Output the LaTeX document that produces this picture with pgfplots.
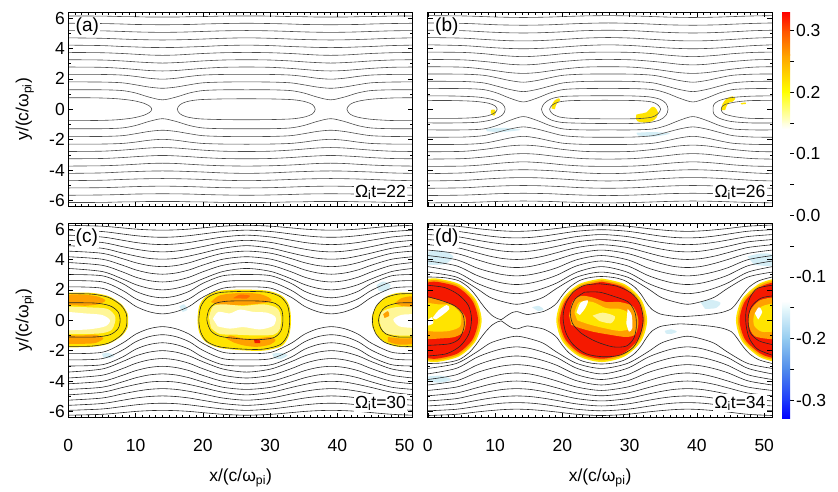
\documentclass[border=0pt]{standalone}
\usepackage{fontspec}
\setmainfont{Liberation Sans}
\usepackage{pgfplots}
\usepackage{pgfplotstable}
\pgfplotsset{compat=1.18}

\definecolor{cy}{RGB}{255,228,0}
\definecolor{cly}{RGB}{255,246,150}
\definecolor{co}{RGB}{255,160,0}
\definecolor{cdo}{RGB}{255,110,0}
\definecolor{cr}{RGB}{245,25,0}
\definecolor{ccy}{RGB}{212,238,246}
\definecolor{cb0}{RGB}{0,0,255}
\definecolor{cb1}{RGB}{30,60,250}
\definecolor{cb2}{RGB}{80,140,235}
\definecolor{cb3}{RGB}{150,205,240}
\definecolor{cb4}{RGB}{235,250,252}
\definecolor{cb5}{RGB}{255,255,215}
\definecolor{cb6}{RGB}{255,255,0}
\definecolor{cb7}{RGB}{255,160,0}
\definecolor{cb8}{RGB}{255,80,0}
\definecolor{cb9}{RGB}{255,0,0}

\newcommand{\tfont}{\fontsize{17.5}{20}\selectfont}

% upper-half field lines (lower half is the mirror image)
\pgfplotstableread{
x L1 L2 L3 L4 L5 L6 L7 L8 L9 L10 L11
0    6.14 5.66 5.18 4.70 4.22 3.74 3.26 2.78 2.30 1.80 1.28
5    6.13 5.64 5.16 4.67 4.19 3.72 3.24 2.76 2.29 1.79 1.28
8    6.10 5.61 5.12 4.62 4.13 3.67 3.18 2.69 2.25 1.74 1.23
10   6.09 5.58 5.09 4.59 4.10 3.62 3.12 2.62 2.16 1.61 1.07
12   6.07 5.57 5.07 4.57 4.07 3.57 3.07 2.55 2.04 1.46 0.80
14   6.07 5.56 5.06 4.56 4.06 3.55 3.04 2.52 1.98 1.38 0.62
16   6.07 5.57 5.07 4.57 4.07 3.57 3.07 2.55 2.04 1.46 0.80
18   6.09 5.58 5.09 4.59 4.10 3.62 3.12 2.62 2.16 1.61 1.07
20   6.10 5.61 5.12 4.62 4.13 3.67 3.18 2.69 2.25 1.74 1.23
23   6.13 5.64 5.16 4.67 4.19 3.72 3.24 2.76 2.29 1.79 1.28
26.5 6.14 5.66 5.18 4.70 4.22 3.74 3.26 2.78 2.30 1.80 1.28
30   6.13 5.64 5.16 4.67 4.19 3.72 3.24 2.76 2.29 1.79 1.28
33   6.10 5.61 5.12 4.62 4.13 3.67 3.18 2.69 2.25 1.74 1.23
35   6.09 5.58 5.09 4.59 4.10 3.62 3.12 2.62 2.16 1.61 1.07
37   6.07 5.57 5.07 4.57 4.07 3.57 3.07 2.55 2.04 1.46 0.80
39   6.07 5.56 5.06 4.56 4.06 3.55 3.04 2.52 1.98 1.38 0.62
41   6.07 5.57 5.07 4.57 4.07 3.57 3.07 2.55 2.04 1.46 0.80
43   6.09 5.58 5.09 4.59 4.10 3.62 3.12 2.62 2.16 1.61 1.07
45   6.10 5.61 5.12 4.62 4.13 3.67 3.18 2.69 2.25 1.74 1.23
48   6.13 5.64 5.16 4.67 4.19 3.72 3.24 2.76 2.29 1.79 1.28
51.2 6.14 5.66 5.18 4.70 4.22 3.74 3.26 2.78 2.30 1.80 1.28
}\tabA

\pgfplotstableread{
x L1 L2 L3 L4 L5 L6 L7 L8 L9 L10 L11
0    6.16 5.68 5.20 4.72 4.24 3.76 3.28 2.80 2.32 1.84 1.36
5.2  6.14 5.65 5.17 4.68 4.19 3.74 3.25 2.77 2.31 1.83 1.36
8.2  6.10 5.60 5.10 4.60 4.10 3.66 3.15 2.65 2.24 1.74 1.30
10.2 6.07 5.56 5.06 4.55 4.04 3.57 3.06 2.53 2.08 1.53 1.08
12.2 6.05 5.54 5.03 4.51 4.00 3.50 2.96 2.41 1.89 1.30 0.73
14.2 6.04 5.53 5.02 4.50 3.98 3.46 2.92 2.36 1.78 1.16 0.48
16.2 6.05 5.54 5.03 4.51 4.00 3.50 2.96 2.41 1.89 1.30 0.73
18.2 6.07 5.56 5.06 4.55 4.04 3.57 3.06 2.53 2.08 1.53 1.08
20.2 6.10 5.60 5.10 4.60 4.10 3.66 3.15 2.65 2.24 1.74 1.30
23.2 6.14 5.65 5.17 4.68 4.19 3.74 3.25 2.77 2.31 1.83 1.36
26.8 6.16 5.68 5.20 4.72 4.24 3.76 3.28 2.80 2.32 1.84 1.36
30.4 6.14 5.65 5.17 4.68 4.19 3.74 3.25 2.77 2.31 1.83 1.36
33.4 6.10 5.60 5.10 4.60 4.10 3.66 3.15 2.65 2.24 1.74 1.30
35.4 6.07 5.56 5.06 4.55 4.04 3.57 3.06 2.53 2.08 1.53 1.08
37.4 6.05 5.54 5.03 4.51 4.00 3.50 2.96 2.41 1.89 1.30 0.73
39.4 6.04 5.53 5.02 4.50 3.98 3.46 2.92 2.36 1.78 1.16 0.48
41.4 6.05 5.54 5.03 4.51 4.00 3.50 2.96 2.41 1.89 1.30 0.73
43.4 6.07 5.56 5.06 4.55 4.04 3.57 3.06 2.53 2.08 1.53 1.08
45.4 6.10 5.60 5.10 4.60 4.10 3.66 3.15 2.65 2.24 1.74 1.30
48.4 6.14 5.65 5.17 4.68 4.19 3.74 3.25 2.77 2.31 1.83 1.36
51.2 6.16 5.68 5.20 4.72 4.24 3.76 3.28 2.80 2.32 1.84 1.36
}\tabB

\pgfplotstableread{
x L1 L2 L3 L4 L5 L6 L7 L8 L9 L10 L11 L12
0    6.25 5.93 5.60 5.26 4.91 4.55 4.18 3.80 3.41 3.01 2.61 2.20
5    6.19 5.84 5.48 5.12 4.74 4.41 4.02 3.62 3.21 2.93 2.53 2.11
8    6.08 5.68 5.27 4.85 4.43 4.06 3.63 3.19 2.73 2.43 1.98 1.52
10   6.00 5.57 5.12 4.68 4.23 3.79 3.32 2.84 2.35 1.91 1.42 0.92
12   5.95 5.49 5.02 4.55 4.07 3.60 3.11 2.61 2.10 1.60 1.08 0.56
14   5.93 5.46 4.98 4.50 4.02 3.53 3.03 2.52 2.00 1.48 0.95 0.42
16   5.95 5.49 5.02 4.55 4.07 3.60 3.11 2.61 2.10 1.60 1.08 0.56
18   6.00 5.57 5.12 4.68 4.23 3.79 3.32 2.84 2.35 1.91 1.42 0.92
20   6.08 5.68 5.27 4.85 4.43 4.06 3.63 3.19 2.73 2.43 1.98 1.52
23   6.19 5.84 5.48 5.12 4.74 4.41 4.02 3.62 3.21 2.93 2.53 2.11
26.5 6.25 5.93 5.60 5.26 4.91 4.55 4.18 3.80 3.41 3.01 2.61 2.20
30.1 6.19 5.84 5.48 5.12 4.74 4.41 4.02 3.62 3.21 2.93 2.53 2.11
33.1 6.08 5.68 5.27 4.85 4.43 4.06 3.63 3.19 2.73 2.43 1.98 1.52
35.1 6.00 5.57 5.12 4.68 4.23 3.79 3.32 2.84 2.35 1.91 1.42 0.92
37.1 5.95 5.49 5.02 4.55 4.07 3.60 3.11 2.61 2.10 1.60 1.08 0.56
39.1 5.93 5.46 4.98 4.50 4.02 3.53 3.03 2.52 2.00 1.48 0.95 0.42
41.1 5.95 5.49 5.02 4.55 4.07 3.60 3.11 2.61 2.10 1.60 1.08 0.56
43.1 6.00 5.57 5.12 4.68 4.23 3.79 3.32 2.84 2.35 1.91 1.42 0.92
45.1 6.08 5.68 5.27 4.85 4.43 4.06 3.63 3.19 2.73 2.43 1.98 1.52
48.1 6.19 5.84 5.48 5.12 4.74 4.41 4.02 3.62 3.21 2.93 2.53 2.11
51.2 6.25 5.93 5.60 5.26 4.91 4.55 4.18 3.80 3.41 3.01 2.61 2.20
}\tabC

\pgfplotstableread{
x L1 L2 L3 L4 L5 L6 L7 L8 L9 L10
0    6.27 5.96 5.64 5.31 4.97 4.62 4.26 3.90 3.53 3.17
4.2  6.19 5.86 5.51 5.16 4.79 4.40 3.99 3.59 3.17 2.85
7.2  6.04 5.67 5.28 4.87 4.45 4.00 3.46 2.97 2.46 2.11
9.2  5.95 5.54 5.13 4.69 4.22 3.74 3.19 2.66 2.11 1.52
11.2 5.88 5.45 5.02 4.55 4.06 3.54 3.00 2.44 1.86 1.22
13.2 5.85 5.42 4.98 4.50 4.00 3.47 2.92 2.35 1.75 1.05
15.2 5.88 5.45 5.02 4.55 4.06 3.54 3.00 2.44 1.86 1.22
17.2 5.95 5.54 5.13 4.69 4.22 3.74 3.19 2.66 2.11 1.52
19.2 6.04 5.67 5.28 4.87 4.45 4.00 3.46 2.97 2.46 2.11
22.2 6.19 5.86 5.51 5.16 4.79 4.40 3.99 3.59 3.17 2.85
25.8 6.27 5.96 5.64 5.31 4.97 4.62 4.26 3.90 3.53 3.17
29.6 6.19 5.86 5.51 5.16 4.79 4.40 3.99 3.59 3.17 2.85
32.6 6.04 5.67 5.28 4.87 4.45 4.00 3.46 2.97 2.46 2.11
34.6 5.95 5.54 5.13 4.69 4.22 3.74 3.19 2.66 2.11 1.52
36.6 5.88 5.45 5.02 4.55 4.06 3.54 3.00 2.44 1.86 1.22
38.6 5.85 5.42 4.98 4.50 4.00 3.47 2.92 2.35 1.75 1.05
40.6 5.88 5.45 5.02 4.55 4.06 3.54 3.00 2.44 1.86 1.22
42.6 5.95 5.54 5.13 4.69 4.22 3.74 3.19 2.66 2.11 1.52
44.6 6.04 5.67 5.28 4.87 4.45 4.00 3.46 2.97 2.46 2.11
47.6 6.19 5.86 5.51 5.16 4.79 4.40 3.99 3.59 3.17 2.85
51.2 6.27 5.96 5.64 5.31 4.97 4.62 4.26 3.90 3.53 3.17
}\tabD

\pgfplotstableread{
x y
0 2.85
2.5 2.8
4.6 2.6
6.1 2.15
7.1 1.65
7.9 1.15
8.7 0.7
9.6 0.3
10.4 0.1
10.9 0.04
11.6 0.25
12.5 0.5
13.3 0.57
14.1 0.45
14.8 0.37
15.8 0.45
17.2 0.58
18.4 0.85
19.2 1.15
20.0 1.65
21.0 2.15
22.5 2.6
24.0 2.8
25.8 2.88
27.8 2.8
29.3 2.6
30.7 2.2
31.7 1.7
32.5 1.15
33.3 0.72
34.5 0.42
36.0 0.3
37.4 0.24
38.6 0.26
40.5 0.32
42.5 0.42
44.0 0.55
45.2 0.78
46.0 1.2
46.8 1.7
47.8 2.2
49.2 2.6
51.2 2.85
}\tabDs

\pgfplotsset{
  panel/.style={
    scale only axis, width=344.5pt, height=194.5pt,
    xmin=0, xmax=51.2, ymin=-6.4, ymax=6.4,
    xtick={0,10,20,30,40,50}, ytick={-6,-4,-2,0,2,4,6},
    minor x tick num=9, minor y tick num=1,
    xtick pos=both, ytick pos=both,
    xticklabel pos=lower, yticklabel pos=left,
    tick align=inside, major tick length=5pt, minor tick length=2.6pt,
    tick style={black, line width=0.6pt},
    axis line style={black, line width=0.9pt},
    axis on top,
    tick label style={font=\tfont},
    label style={font=\tfont},
    xticklabel style={yshift=-18pt},
    ylabel style={at={(axis description cs:-0.126,0.5)}, anchor=center},
    xlabel style={at={(axis description cs:0.5,-0.31)}, anchor=center},
  },
  fl/.style={draw=black!70, line width=0.6pt, smooth},
  fd/.style={draw=black!85, line width=0.6pt, smooth},
}
\tikzset{
  lab/.style={anchor=north west, fill=white, inner sep=1pt, font=\fontsize{19}{21}\selectfont},
  tlab/.style={anchor=south east, fill=white, inner sep=1.5pt, font=\tfont},
}

\begin{document}
\begin{tikzpicture}[x=1pt,y=1pt]
\useasboundingbox (0,0) rectangle (838,491);

% ---------------- (a)
\begin{axis}[panel, at={(68.3pt,284.5pt)}, anchor=south west,
  xticklabels={,,,,,}, yticklabels={-6,-4,-2,0,2,4,6},
  ylabel={y/(c/ω\textsubscript{pi})}]
\pgfplotsinvokeforeach{1,...,11}{
  \addplot[fl] table[x=x, y=L#1] {\tabA};
  \addplot[fl] table[x=x, y expr=-\thisrow{L#1}] {\tabA};
}
\addplot[fl] coordinates {(0,0.76) (4,0.75) (7,0.7) (9.5,0.58) (11.2,0.4) (12.1,0.2) (12.4,0) (12.1,-0.2) (11.2,-0.4) (9.5,-0.58) (7,-0.7) (4,-0.74) (0,-0.75)};
\addplot[fl] coordinates {(26.4,0.69) (30,0.68) (33.3,0.63) (35.2,0.5) (36.3,0.3) (36.7,0) (36.3,-0.3) (35.2,-0.5) (33.3,-0.63) (30,-0.68) (26.4,-0.69) (23,-0.68) (19.5,-0.63) (17.6,-0.5) (16.6,-0.3) (16.2,0) (16.6,0.3) (17.6,0.5) (19.5,0.63) (23,0.68) (26.4,0.69)};
\addplot[fl] coordinates {(51.2,0.76) (48,0.74) (45,0.66) (43,0.52) (41.9,0.33) (41.4,0) (41.9,-0.33) (43,-0.52) (45,-0.66) (48,-0.74) (51.2,-0.75)};
\node[lab] at (rel axis cs:0.018,0.975) {(a)};
\node[tlab] at (rel axis cs:0.985,0.025) {Ω\textsubscript{i}t=22};
\end{axis}

% ---------------- (b)
\begin{axis}[panel, at={(427.8pt,284.5pt)}, anchor=south west,
  xticklabels={,,,,,}, yticklabels={,,,,,,}]
\addplot[fill=ccy, draw=none, smooth] coordinates {(8.6,-1.3) (11,-1.22) (13.8,-1.35) (11,-1.5) (8.8,-1.45)} -- cycle;
\addplot[fill=ccy, draw=none, smooth] coordinates {(31,-1.55) (33.5,-1.5) (36,-1.6) (33.5,-1.8) (31.2,-1.72)} -- cycle;
\addplot[fill=cy, draw=none, smooth] coordinates {(9.4,-0.05) (9.9,-0.02) (10.1,-0.2) (9.9,-0.42) (9.5,-0.35) (9.35,-0.2)} -- cycle;
\addplot[fill=cy, draw=none, smooth] coordinates {(18.4,0.05) (18.5,0.35) (18.9,0.6) (19.5,0.72) (19.7,0.6) (19.3,0.45) (19.0,0.2) (18.9,0.0)} -- cycle;
\addplot[fill=cy, draw=none, smooth] coordinates {(31.0,-0.35) (31.5,-0.3) (32.5,-0.2) (33.3,0.15) (33.8,0.1) (34.2,-0.2) (34.0,-0.55) (33.3,-0.8) (32.2,-0.88) (31.2,-0.8) (30.9,-0.6)} -- cycle;
\addplot[fill=cy, draw=none, smooth] coordinates {(43.6,-0.05) (43.8,0.35) (44.4,0.7) (45.3,0.85) (45.7,0.7) (45.3,0.5) (44.8,0.45) (44.4,0.2) (44.2,-0.05)} -- cycle;
\addplot[fill=cy, draw=none] coordinates {(46.5,0.4) (47.2,0.45) (47.3,0.35) (46.6,0.32)} -- cycle;
\pgfplotsinvokeforeach{1,...,11}{
  \addplot[fl] table[x=x, y=L#1] {\tabB};
  \addplot[fl] table[x=x, y expr=-\thisrow{L#1}] {\tabB};
}
\addplot[fl] coordinates {(0,0.88) (4,0.87) (7.5,0.8) (9.8,0.62) (11.1,0.35) (11.5,0) (11.1,-0.37) (9.8,-0.66) (7.5,-0.85) (4,-0.9) (0,-0.9)};
\addplot[fl] coordinates {(0,0.58) (4,0.57) (7,0.52) (9,0.4) (10,0.22) (10.3,0) (10,-0.22) (9,-0.42) (7,-0.55) (4,-0.6) (0,-0.6)};
\addplot[fl] coordinates {(26.3,0.89) (30,0.88) (32.8,0.82) (34.5,0.66) (35.4,0.38) (35.7,0) (35.4,-0.4) (34.5,-0.7) (32.8,-0.88) (30,-0.94) (26.3,-0.94) (23,-0.92) (20,-0.87) (18.3,-0.7) (17.3,-0.4) (16.9,0) (17.3,0.38) (18.3,0.68) (20,0.84) (23,0.88) (26.3,0.89)};
\addplot[fl] coordinates {(26.3,0.59) (31,0.57) (33.3,0.48) (34.2,0.28) (34.6,0) (34.2,-0.3) (33.3,-0.52) (31,-0.62) (26.3,-0.63) (21.5,-0.6) (19.5,-0.5) (18.5,-0.29) (18.1,0) (18.5,0.28) (19.5,0.48) (21.5,0.57) (26.3,0.59)};
\addplot[fl] coordinates {(51.2,0.88) (48,0.86) (45,0.76) (43.2,0.55) (42.5,0.3) (42.4,0) (42.5,-0.3) (43.2,-0.57) (45,-0.8) (48,-0.9) (51.2,-0.9)};
\addplot[fl] coordinates {(51.2,0.58) (48,0.57) (45.8,0.48) (44.2,0.32) (43.7,0.15) (43.6,0) (43.7,-0.15) (44.2,-0.33) (45.8,-0.5) (48,-0.6) (51.2,-0.6)};
\node[lab] at (rel axis cs:0.018,0.975) {(b)};
\node[tlab] at (rel axis cs:0.985,0.025) {Ω\textsubscript{i}t=26};
\end{axis}

% ---------------- (c)
\begin{axis}[panel, at={(68.3pt,73.5pt)}, anchor=south west,
  xticklabels={0,10,20,30,40,50}, yticklabels={-6,-4,-2,0,2,4,6},
  ylabel={y/(c/ω\textsubscript{pi})}, xlabel={x/(c/ω\textsubscript{pi})}]
\addplot[fill=ccy, draw=none, smooth] coordinates {(45.8,2.3) (46.8,2.55) (47.9,2.3) (47.2,1.9) (46.1,1.95)} -- cycle;
\addplot[fill=ccy, draw=none, smooth] coordinates {(16.5,0.9) (17.2,1.05) (17.7,0.7) (17,0.55)} -- cycle;
\addplot[fill=ccy, draw=none, smooth] coordinates {(5,-2.2) (6,-2.15) (6.8,-2.35) (6,-2.5) (5.2,-2.45)} -- cycle;
\addplot[fill=ccy, draw=none, smooth] coordinates {(30.3,-2.2) (31.5,-2.15) (32.6,-2.3) (31.6,-2.55) (30.6,-2.5)} -- cycle;
% middle island
\addplot[fill=cy, draw=none, smooth] coordinates {(26,2.02) (29.5,1.95) (31.7,1.62) (32.8,1.0) (33.1,0) (32.8,-1.0) (31.7,-1.7) (29,-2.0) (26,-1.98) (22.5,-1.82) (20.5,-1.45) (19.5,-0.85) (19.2,0) (19.5,1.0) (20.6,1.62) (22.5,1.95) (26,2.02)} -- cycle;
\addplot[fill=co, draw=none, smooth] coordinates {(21.2,1.2) (22.3,1.6) (24,1.75) (26.5,1.8) (28.5,1.72) (29.8,1.5) (30.2,1.25) (28.5,1.1) (26,1.0) (23.5,1.0) (22,1.05)} -- cycle;
\addplot[fill=cdo, draw=none, smooth] coordinates {(24.5,1.45) (25.5,1.68) (27,1.62) (26.5,1.42)} -- cycle;
\addplot[fill=co, draw=none, smooth] coordinates {(23.5,-1.2) (24,-1.0) (26,-1.2) (28,-1.2) (30,-1.1) (30.8,-1.3) (30,-1.6) (28,-1.75) (26,-1.65) (24.5,-1.45)} -- cycle;
\addplot[fill=cr, draw=none, smooth] coordinates {(27.6,-1.25) (28.4,-1.3) (28.5,-1.5) (27.7,-1.5)} -- cycle;
\addplot[fill=cly, draw=none, smooth] coordinates {(20.9,0.2) (21.5,0.9) (23,1.05) (26,0.95) (29,1.05) (31,0.8) (31.6,0.2) (31.4,-0.6) (30.5,-0.95) (28,-1.0) (25,-0.95) (22.5,-0.9) (21.2,-0.5)} -- cycle;
\addplot[fill=white, draw=none, smooth] coordinates {(21.5,0.1) (22.3,0.55) (24,0.45) (25.5,0.7) (27.5,0.55) (29.5,0.5) (30.8,0.2) (30.5,-0.35) (28.5,-0.6) (26,-0.45) (24,-0.55) (22.2,-0.4)} -- cycle;
% left island
\addplot[fill=cy, draw=none, smooth] coordinates {(0,1.82) (3.5,1.8) (6,1.58) (7.9,1.05) (8.8,0.45) (8.9,0) (8.8,-0.5) (7.9,-1.05) (6,-1.55) (3.5,-1.75) (0,-1.78)} -- cycle;
\addplot[fill=co, draw=none, smooth] coordinates {(0,1.0) (0,1.65) (2.5,1.68) (4.5,1.55) (5.5,1.3) (4.5,1.05) (2.5,0.95)} -- cycle;
\addplot[fill=co, draw=none, smooth] coordinates {(0,-1.0) (2,-1.0) (4,-0.95) (5.2,-1.2) (4,-1.5) (2,-1.55) (0,-1.55)} -- cycle;
\addplot[fill=cly, draw=none, smooth] coordinates {(0,0.9) (3,0.85) (5.8,0.75) (7.0,0.2) (6.5,-0.6) (5,-0.85) (2.5,-0.9) (0,-0.9)} -- cycle;
\addplot[fill=white, draw=none, smooth] coordinates {(0,0.55) (2.5,0.45) (5,0.35) (6.2,0.0) (5.5,-0.4) (3,-0.6) (0,-0.65)} -- cycle;
% right island
\addplot[fill=cy, draw=none, smooth] coordinates {(51.2,1.82) (49,1.8) (47.2,1.55) (45.9,1.0) (45.2,0.4) (45.1,0) (45.2,-0.45) (45.9,-1.0) (47.2,-1.5) (49,-1.75) (51.2,-1.78)} -- cycle;
\addplot[fill=co, draw=none, smooth] coordinates {(48.5,1.1) (49.5,1.45) (51.2,1.55) (51.2,0.9) (49.5,0.95)} -- cycle;
\addplot[fill=co, draw=none, smooth] coordinates {(47.5,-1.1) (49.5,-1.2) (51.2,-1.2) (51.2,-1.55) (49,-1.6) (47.5,-1.4)} -- cycle;
\addplot[fill=cly, draw=none, smooth] coordinates {(51.2,0.9) (48.5,0.85) (46.6,0.55) (46.3,-0.1) (47,-0.8) (49,-1.0) (51.2,-1.0)} -- cycle;
\addplot[fill=co, draw=none, smooth] coordinates {(46.8,0.4) (47.5,0.6) (47.7,0.3) (47.0,0.15)} -- cycle;
\addplot[fill=white, draw=none, smooth] coordinates {(51.2,0.4) (49.5,0.35) (48.3,0.05) (49.2,-0.4) (51.2,-0.5)} -- cycle;
\pgfplotsinvokeforeach{1,...,12}{
  \addplot[fd] table[x=x, y=L#1] {\tabC};
  \addplot[fd] table[x=x, y expr=-\thisrow{L#1}] {\tabC};
}
\addplot[fd] coordinates {(26.2,1.28) (29,1.25) (30.8,1.1) (31.7,0.7) (31.9,0) (31.6,-0.7) (30.5,-1.15) (28,-1.28) (25,-1.2) (22.5,-1.05) (21.2,-0.7) (20.6,0) (20.9,0.7) (21.8,1.1) (23.5,1.25) (26.2,1.28)};
\addplot[fd] coordinates {(26,1.9) (29.5,1.85) (31.5,1.55) (32.6,0.95) (32.9,0) (32.6,-0.95) (31.5,-1.6) (29,-1.9) (26,-1.9) (22.5,-1.75) (20.6,-1.4) (19.7,-0.8) (19.4,0) (19.7,0.9) (20.7,1.5) (22.5,1.82) (26,1.9)};
\addplot[fd] coordinates {(0,1.15) (4,1.13) (6.2,0.95) (7.4,0.55) (7.7,0) (7.4,-0.55) (6.2,-0.95) (4,-1.1) (0,-1.1)};
\addplot[fd] coordinates {(0,1.75) (3.5,1.72) (6,1.5) (7.8,1.0) (8.6,0.45) (8.7,0) (8.6,-0.45) (7.8,-1.0) (6,-1.5) (3.5,-1.7) (0,-1.72)};
\addplot[fd] coordinates {(51.2,1.15) (49,1.13) (47.2,0.9) (46.4,0.5) (46.1,0) (46.4,-0.5) (47.2,-0.9) (49,-1.1) (51.2,-1.1)};
\addplot[fd] coordinates {(51.2,1.75) (49,1.72) (47,1.45) (45.8,0.95) (45.3,0.4) (45.2,0) (45.3,-0.4) (45.8,-0.95) (47,-1.45) (49,-1.7) (51.2,-1.72)};
\node[lab] at (rel axis cs:0.018,0.975) {(c)};
\node[tlab] at (rel axis cs:0.985,0.025) {Ω\textsubscript{i}t=30};
\end{axis}

% ---------------- (d)
\begin{axis}[panel, at={(427.8pt,73.5pt)}, anchor=south west,
  xticklabels={0,10,20,30,40,50}, yticklabels={,,,,,,},
  xlabel={x/(c/ω\textsubscript{pi})}]
\addplot[fill=ccy, draw=none, smooth] coordinates {(0,4.5) (2,4.6) (3.8,4.2) (2.5,3.7) (0,3.65)} -- cycle;
\addplot[fill=ccy, draw=none, smooth] coordinates {(47.5,4.2) (49.5,4.4) (51.2,4.3) (51.2,3.6) (48.5,3.65)} -- cycle;
\addplot[fill=ccy, draw=none, smooth] coordinates {(40.5,1.2) (42,1.35) (43.5,1.15) (42.8,0.8) (41.2,0.75)} -- cycle;
\addplot[fill=ccy, draw=none, smooth] coordinates {(0,-3.7) (2,-3.65) (3.5,-3.9) (2,-4.1) (0,-4.05)} -- cycle;
\addplot[fill=ccy, draw=none, smooth] coordinates {(35.2,-0.7) (36.2,-0.6) (37,-0.75) (36.2,-0.9) (35.4,-0.88)} -- cycle;
\addplot[fill=ccy, draw=none, smooth] coordinates {(15.5,0.85) (16.5,0.95) (17.2,0.7) (16.4,0.6)} -- cycle;
% middle island
\addplot[fill=cy, draw=none, smooth] coordinates {(25.85,2.75) (29.23,2.38) (31.70,1.38) (32.6,0) (31.70,-1.38) (29.23,-2.38) (25.85,-2.75) (22.48,-2.38) (20.0,-1.38) (19.1,0) (20.0,1.38) (22.48,2.38) (25.85,2.75)} -- cycle;
\addplot[fill=co, draw=none, smooth] coordinates {(25.85,2.64) (29.09,2.29) (31.46,1.32) (32.33,0) (31.46,-1.32) (29.09,-2.29) (25.85,-2.64) (22.61,-2.29) (20.24,-1.32) (19.37,0) (20.24,1.32) (22.61,2.29) (25.85,2.64)} -- cycle;
\addplot[fill=cr, draw=none, smooth] coordinates {(25.85,2.53) (28.96,2.19) (31.23,1.27) (32.06,0) (31.23,-1.27) (28.96,-2.19) (25.85,-2.53) (22.74,-2.19) (20.47,-1.27) (19.64,0) (20.47,1.27) (22.74,2.19) (25.85,2.53)} -- cycle;
\addplot[fill=co, draw=none, smooth] coordinates {(21.0,0.3) (21.5,1.2) (22.8,1.6) (24.5,1.5) (26.5,1.2) (28.5,1.2) (30.5,0.9) (31.3,0.0) (30.9,-0.9) (29.5,-1.1) (27,-0.95) (24.5,-0.75) (22.5,-0.5) (21.3,-0.3)} -- cycle;
\addplot[fill=cy, draw=none, smooth] coordinates {(21.8,0.5) (22.5,1.2) (24.5,1.2) (26.5,0.8) (28.5,0.75) (30.0,0.4) (30.1,-0.5) (28.5,-0.7) (26,-0.5) (23.8,-0.25) (22.2,0.0)} -- cycle;
\addplot[fill=cly, draw=none, smooth] coordinates {(24.5,0.3) (26,0.5) (27.8,0.25) (27.2,-0.2) (25.5,-0.05)} -- cycle;
\addplot[fill=white, draw=none, smooth] coordinates {(22.1,0.5) (22.7,1.15) (23.8,1.3) (23.4,0.8) (22.6,0.35)} -- cycle;
\addplot[fill=white, draw=none, smooth] coordinates {(29.7,0.75) (30.3,0.35) (30.4,-0.5) (29.9,-0.75) (29.5,-0.2)} -- cycle;
% left island
\addplot[fill=cy, draw=none, smooth] coordinates {(0,2.70) (1.3,2.75) (4.65,2.38) (7.1,1.38) (8.0,0) (7.1,-1.38) (4.65,-2.38) (1.3,-2.75) (0,-2.70)} -- cycle;
\addplot[fill=co, draw=none, smooth] coordinates {(0,2.59) (1.3,2.64) (4.52,2.29) (6.87,1.32) (7.73,0) (6.87,-1.32) (4.52,-2.29) (1.3,-2.64) (0,-2.59)} -- cycle;
\addplot[fill=cr, draw=none, smooth] coordinates {(0,2.48) (1.3,2.53) (4.38,2.19) (6.63,1.27) (7.46,0) (6.63,-1.27) (4.38,-2.19) (1.3,-2.53) (0,-2.48)} -- cycle;
\addplot[fill=co, draw=none, smooth] coordinates {(0,1.5) (2,1.3) (4.2,0.9) (5.6,0.2) (5.4,-0.7) (4,-1.1) (1.8,-1.2) (0,-1.25)} -- cycle;
\addplot[fill=cy, draw=none, smooth] coordinates {(0,1.15) (1.5,1.05) (3.5,1.0) (4.9,0.4) (4.8,-0.4) (3.2,-0.7) (1.2,-0.75) (0,-0.7)} -- cycle;
\addplot[fill=white, draw=none, smooth] coordinates {(0.7,0.15) (1.6,0.65) (2.8,1.0) (3.2,0.75) (2.2,0.35) (1.2,0.05)} -- cycle;
\addplot[fill=white, draw=none, smooth] coordinates {(0,0.0) (0.6,0.2) (0.8,-0.2) (0,-0.35)} -- cycle;
% right island
\addplot[fill=cy, draw=none, smooth] coordinates {(51.2,2.70) (49.15,2.38) (46.7,1.38) (45.8,0) (46.7,-1.38) (49.15,-2.38) (51.2,-2.70)} -- cycle;
\addplot[fill=co, draw=none, smooth] coordinates {(51.2,2.59) (49.29,2.29) (46.93,1.32) (46.07,0) (46.93,-1.32) (49.29,-2.29) (51.2,-2.59)} -- cycle;
\addplot[fill=cr, draw=none, smooth] coordinates {(51.2,2.47) (49.42,2.19) (47.17,1.27) (46.34,0) (47.17,-1.27) (49.42,-2.19) (51.2,-2.47)} -- cycle;
\addplot[fill=co, draw=none, smooth] coordinates {(51.2,1.5) (49.3,1.3) (47.9,0.6) (47.7,-0.3) (48.6,-1.05) (51.2,-1.25)} -- cycle;
\addplot[fill=cy, draw=none, smooth] coordinates {(51.2,1.1) (49.6,0.9) (48.5,0.35) (48.5,-0.35) (49.6,-0.75) (51.2,-0.75)} -- cycle;
\addplot[fill=white, draw=none, smooth] coordinates {(48.6,0.45) (49.2,0.85) (49.7,0.55) (49.1,0.05)} -- cycle;
\pgfplotsinvokeforeach{1,...,10}{
  \addplot[fd] table[x=x, y=L#1] {\tabD};
  \addplot[fd] table[x=x, y expr=-\thisrow{L#1}] {\tabD};
}
\addplot[fd] table[x=x, y=y] {\tabDs};
\addplot[fd] table[x=x, y expr=-\thisrow{y}] {\tabDs};
\addplot[fd] coordinates {(25.5,2.4) (28,2.25) (30.2,1.8) (31.5,1.1) (32.0,0.1) (31.6,-0.9) (30.5,-1.8) (28.5,-2.3) (26,-2.4) (23.5,-2.2) (21.6,-1.6) (20.5,-0.8) (20.1,0.2) (20.5,1.1) (21.6,1.85) (23.3,2.3) (25.5,2.4)};
\addplot[fd] coordinates {(23.3,1.85) (25.5,1.85) (27.8,1.55) (29.8,1.2) (30.8,0.5) (31.0,-0.4) (30.6,-1.2) (29.5,-1.7) (27.5,-1.75) (25,-1.4) (22.8,-0.85) (21.5,-0.2) (21.2,0.6) (21.9,1.4) (23.3,1.85)};
\addplot[fd] coordinates {(0,2.3) (2.5,2.15) (4.5,1.7) (6.0,1.0) (6.5,0.1) (6.1,-0.9) (4.8,-1.7) (2.8,-2.2) (0,-2.35)};
\addplot[fd] coordinates {(0,1.55) (2,1.3) (4,0.95) (5.2,0.4) (5.4,-0.4) (4.7,-1.2) (3.2,-1.55) (0,-1.65)};
\addplot[fd] coordinates {(51.2,2.3) (49,2.1) (47.9,1.5) (47.3,0.6) (47.3,-0.3) (47.8,-1.2) (49,-1.9) (51.2,-2.3)};
\addplot[fd] coordinates {(51.2,1.6) (49.5,1.45) (48.1,0.9) (47.6,0.1) (47.9,-0.8) (49.2,-1.35) (51.2,-1.6)};
\node[lab] at (rel axis cs:0.018,0.975) {(d)};
\node[tlab] at (rel axis cs:0.985,0.025) {Ω\textsubscript{i}t=34};
\end{axis}

% ---------------- colour bar
\begin{axis}[at={(782pt,72.5pt)}, anchor=south west, scale only axis,
  width=8pt, height=406.5pt, xmin=0, xmax=1, ymin=-0.33, ymax=0.33,
  xtick=\empty, ytick={-0.3,-0.2,-0.1,0,0.1,0.2,0.3},
  yticklabels={-0.3,-0.2,-0.1,0.0,0.1,0.2,0.3},
  minor y tick num=1, ytick pos=right, yticklabel pos=right,
  tick align=outside, major tick length=4pt, minor tick length=4pt,
  tick style={black, line width=0.6pt},
  axis line style={draw=none},
  yticklabel style={font=\tfont, xshift=-1.5pt}]
\addplot[draw=none, bottom color=cb0, top color=cb1] coordinates {(0,-0.33) (1,-0.33) (1,-0.299) (0,-0.299)} -- cycle;
\addplot[draw=none, bottom color=cb1, top color=cb2] coordinates {(0,-0.3) (1,-0.3) (1,-0.249) (0,-0.249)} -- cycle;
\addplot[draw=none, bottom color=cb2, top color=cb3] coordinates {(0,-0.25) (1,-0.25) (1,-0.199) (0,-0.199)} -- cycle;
\addplot[draw=none, bottom color=cb3, top color=cb4] coordinates {(0,-0.2) (1,-0.2) (1,-0.149) (0,-0.149)} -- cycle;
\addplot[draw=none, bottom color=cb4, top color=white] coordinates {(0,-0.15) (1,-0.15) (1,-0.139) (0,-0.139)} -- cycle;
\addplot[draw=none, bottom color=white, top color=cb5] coordinates {(0,0.14) (1,0.14) (1,0.151) (0,0.151)} -- cycle;
\addplot[draw=none, bottom color=cb5, top color=cb6] coordinates {(0,0.15) (1,0.15) (1,0.201) (0,0.201)} -- cycle;
\addplot[draw=none, bottom color=cb6, top color=cb7] coordinates {(0,0.2) (1,0.2) (1,0.261) (0,0.261)} -- cycle;
\addplot[draw=none, bottom color=cb7, top color=cb8] coordinates {(0,0.26) (1,0.26) (1,0.301) (0,0.301)} -- cycle;
\addplot[draw=none, bottom color=cb8, top color=cb9] coordinates {(0,0.3) (1,0.3) (1,0.33) (0,0.33)} -- cycle;
\end{axis}
\end{tikzpicture}
\end{document}
